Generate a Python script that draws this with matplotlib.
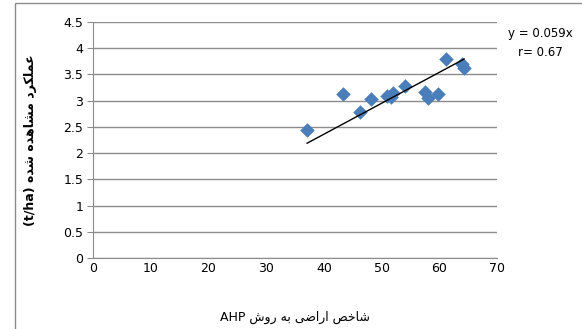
import numpy as np
from matplotlib import pyplot as plt
from matplotlib.patches import Rectangle

# land index (AHP) vs observed yield
ahp_index = [37.1, 43.3, 46.2, 48.2, 51.0, 51.6, 51.9, 54.0, 57.6, 58.1, 59.7, 61.1, 64.0, 64.3]
yield_obs = [2.45, 3.13, 2.79, 3.04, 3.09, 3.07, 3.14, 3.28, 3.16, 3.05, 3.13, 3.80, 3.70, 3.62]
slope = 0.059
r_value = 0.67

x_ticks = [0, 10, 20, 30, 40, 50, 60, 70]
y_ticks = [0, 0.5, 1, 1.5, 2, 2.5, 3, 3.5, 4, 4.5]

# arabic presentation forms: (isolated, final, initial, medial)
FORMS = {
    'ا': ('\uFE8D', '\uFE8E', None, None),
    'د': ('\uFEA9', '\uFEAA', None, None),
    'ر': ('\uFEAD', '\uFEAE', None, None),
    'و': ('\uFEED', '\uFEEE', None, None),
    'ع': ('\uFEC9', '\uFECA', '\uFECB', '\uFECC'),
    'م': ('\uFEE1', '\uFEE2', '\uFEE3', '\uFEE4'),
    'ل': ('\uFEDD', '\uFEDE', '\uFEDF', '\uFEE0'),
    'ک': ('\uFB8E', '\uFB8F', '\uFB90', '\uFB91'),
    'ش': ('\uFEB5', '\uFEB6', '\uFEB7', '\uFEB8'),
    'ه': ('\uFEE9', '\uFEEA', '\uFEEB', '\uFEEC'),
    'خ': ('\uFEA5', '\uFEA6', '\uFEA7', '\uFEA8'),
    'ص': ('\uFEB9', '\uFEBA', '\uFEBB', '\uFEBC'),
    'ض': ('\uFEBD', '\uFEBE', '\uFEBF', '\uFEC0'),
    'ی': ('\uFBFC', '\uFBFD', '\uFBFE', '\uFBFF'),
    'ب': ('\uFE8F', '\uFE90', '\uFE91', '\uFE92'),
}


def shape(text):
    out = []
    for i, ch in enumerate(text):
        if ch not in FORMS:
            out.append(ch)
            continue
        prev = text[i - 1] if i > 0 else ''
        nxt = text[i + 1] if i + 1 < len(text) else ''
        join_prev = prev in FORMS and FORMS[prev][2] is not None
        join_next = nxt in FORMS and FORMS[ch][2] is not None
        iso, fin, ini, med = FORMS[ch]
        if join_prev and join_next:
            out.append(med)
        elif join_prev:
            out.append(fin)
        elif join_next:
            out.append(ini)
        else:
            out.append(iso)
    return ''.join(reversed(out))


y_label = '(t/ha) ' + shape('عملکرد مشاهده شده')
x_label = 'AHP ' + shape('شاخص اراضی به روش')

fig = plt.figure(figsize=(5.82, 3.29), dpi=100)
ax = fig.add_axes([93 / 582, 71 / 329, 404 / 582, 236 / 329])

ax.scatter(ahp_index, yield_obs, marker='D', s=55, color='#4a7ebb', zorder=3, linewidths=0)
xs = np.array([min(ahp_index), max(ahp_index)])
ax.plot(xs, slope * xs, color='black', lw=1, zorder=4)

ax.set_xlim(0, 70)
ax.set_ylim(0, 4.5)
ax.set_xticks(x_ticks)
ax.set_yticks(y_ticks)
ax.set_xticklabels([str(v) for v in x_ticks])
ax.set_yticklabels(['0', '0.5', '1', '1.5', '2', '2.5', '3', '3.5', '4', '4.5'])
ax.yaxis.grid(True, color='#8c8c8c', lw=1)
ax.set_axisbelow(True)
for s in ['top', 'right']:
    ax.spines[s].set_visible(False)
for s in ['left', 'bottom']:
    ax.spines[s].set_color('#8c8c8c')
ax.tick_params(axis='y', length=4, color='#8c8c8c', labelsize=9, pad=3)
ax.tick_params(axis='x', length=0, labelsize=9, pad=3)

ax.set_ylabel(y_label, fontsize=9, fontweight='bold', labelpad=19)
ax.set_xlabel(x_label, fontsize=9, labelpad=26)

fig.text(540 / 582, 1 - 33 / 329, 'y = {}x'.format(slope), ha='center', va='center', fontsize=8.5)
fig.text(540 / 582, 1 - 52 / 329, 'r= {}'.format(r_value), ha='center', va='center', fontsize=8.5)

fig.patches.append(Rectangle((15 / 582, -0.1), 1, 1.1 - 3 / 329, transform=fig.transFigure,
                             fill=False, edgecolor='#8c8c8c', lw=1))

fig.savefig('out.png', dpi=100)
